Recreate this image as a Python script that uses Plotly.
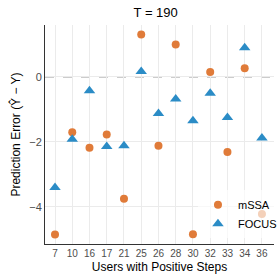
import plotly.graph_objects as go

users = ["7", "10", "16", "17", "21", "25", "26", "28", "30", "32", "33", "34", "36"]
mssa = [-4.85, -1.70, -2.18, -1.77, -3.75, 1.31, -2.12, 1.00, -4.84, 0.15, -2.31, 0.27, -4.22]
focus = [-3.40, -1.92, -0.42, -2.14, -2.12, 0.17, -1.12, -0.68, -1.35, -0.50, -1.25, 0.90, -1.88]

ORANGE = "#E07B39"
BLUE = "#2B8CC6"
FONT = "Liberation Sans, Arial, sans-serif"

fig = go.Figure()
fig.add_trace(go.Scatter(x=users, y=mssa, mode="markers", name="mSSA",
                         marker=dict(symbol="circle", size=8, color=ORANGE)))
fig.add_trace(go.Scatter(x=users, y=focus, mode="markers", name="FOCUS",
                         marker=dict(symbol="triangle-up", size=10, color=BLUE)))

fig.add_hline(y=0, line=dict(color="#999999", width=1.2, dash="dash"), layer="below")

fig.update_layout(
    width=278, height=278,
    margin=dict(l=45, r=4, t=25, b=34, autoexpand=False),
    paper_bgcolor="white", plot_bgcolor="white",
    font=dict(family=FONT, size=11, color="black"),
    title=dict(text="T = 190", x=0.56, xanchor="center", y=0.957, yanchor="middle",
               yref="container", automargin=False, font=dict(size=13, color="black")),
    showlegend=True,
    legend=dict(x=0.668, y=0.245, xanchor="left", yanchor="top",
                bgcolor="rgba(255,255,255,0.65)", borderwidth=0,
                font=dict(size=11, color="black"), itemwidth=30,
                tracegroupgap=0),
    xaxis=dict(type="category", categoryorder="array", categoryarray=users,
               range=[-0.58, 12.7], showgrid=True, gridcolor="#ebebeb", gridwidth=1,
               showline=True, linecolor="#333333", linewidth=1, automargin=False,
               ticks="", tickfont=dict(size=10, color="#4d4d4d"),
               title=dict(text="Users with Positive Steps", font=dict(size=12), standoff=4),
               zeroline=False),
    yaxis=dict(range=[-5.14, 1.6], tickvals=[-4, -2, 0], showgrid=True,
               gridcolor="#ebebeb", gridwidth=1, automargin=False,
               showline=True, linecolor="#333333", linewidth=1,
               ticks="", tickfont=dict(size=11, color="#4d4d4d"),
               title=dict(text="Prediction Error (Y\u0302 \u2212 Y)", font=dict(size=12), standoff=6),
               zeroline=False),
)

fig.write_html("out.html", config={"displayModeBar": False},
               post_script="document.body.style.margin='0';document.body.style.padding='0';document.body.style.overflow='hidden';")
